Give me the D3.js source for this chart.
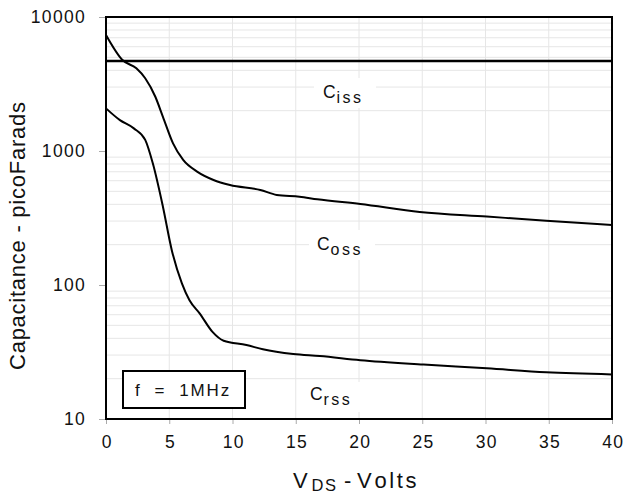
<!DOCTYPE html>
<html><head><meta charset="utf-8">
<script src="https://cdn.jsdelivr.net/npm/d3@7"></script>
<style>body{margin:0;background:#fff}svg{display:block}text{font-family:"Liberation Sans",Arial,sans-serif;fill:#111}</style>
</head><body><svg id="c" width="624" height="494"></svg>
<script>
const xTicks = [0,5,10,15,20,25,30,35,40];
const yTicks = [10,100,1000,10000];
const cissV = [0,40];
const cissC = [4700,4700];
const cossV = [0,1.3,2.4,3.1,3.9,4.5,5.3,6.1,7.2,8.5,9.8,12.2,13.5,15.3,16.7,20.1,24.8,30.1,34.8,40];
const cossC = [7350,4780,4140,3490,2540,1800,1140,857,702,608,557,512,470,456,436,402,351,324,302,280];
const crssV = [0,1.1,2.2,3.1,3.7,4.5,5.2,6.0,6.6,7.4,8.4,9.3,11.1,12.4,14.8,16.9,20.1,25.1,30.1,34.8,40];
const crssC = [2080,1700,1475,1210,809,384,182,103,77,61.5,44.9,38.4,35.7,33.1,30.5,29.5,27.5,25.5,23.9,22.3,21.5];

const svg = d3.select("#c");
const L=106,R=612,T=17,B=419;
const x = d3.scaleLinear().domain([0,40]).range([L,R]);
const y = d3.scaleLog().domain([10,10000]).range([B,T]);

// grid
const minor=[];
[10,100,1000].forEach(d=>{for(let k=2;k<=9;k++)minor.push(d*k);});
const g=svg.append("g");
g.selectAll("line.h").data(minor).join("line").attr("x1",L).attr("x2",R)
 .attr("y1",d=>y(d)).attr("y2",d=>y(d)).attr("stroke","#e6e6e6").attr("stroke-width",1);
g.selectAll("line.v").data(xTicks.slice(1,-1)).join("line").attr("y1",T).attr("y2",B)
 .attr("x1",d=>x(d)).attr("x2",d=>x(d)).attr("stroke","#e6e6e6").attr("stroke-width",1);

// label backgrounds
[[314,78,62,30],[309,230,66,30],[302,382,60,30]].forEach(r=>{
 svg.append("rect").attr("x",r[0]).attr("y",r[1]).attr("width",r[2]).attr("height",r[3]).attr("fill","#fff");
});

// axes
const xa = svg.append("g").attr("transform",`translate(0,${B})`)
 .call(d3.axisBottom(x).tickValues(xTicks).tickSize(5).tickPadding(12).tickFormat(d3.format("d")));
const ya = svg.append("g").attr("transform",`translate(${L},0)`)
 .call(d3.axisLeft(y).tickValues(yTicks).tickSize(7).tickPadding(13).tickFormat(d3.format("d")));
[xa,ya].forEach(a=>{a.select(".domain").remove();a.selectAll("line").attr("stroke","#aaa");
 a.selectAll("text").style("font-size","17.5px").style("letter-spacing","1.3px").attr("fill","#111");});
xa.selectAll("text").attr("dx","0.65px");

// curves
const line=d3.line().x(d=>x(d[0])).y(d=>y(d[1])).curve(d3.curveMonotoneX);
[[cissV,cissC,2.5],[cossV,cossC,2],[crssV,crssC,2]].forEach(([v,c,w])=>{
 svg.append("path").datum(v.map((d,i)=>[d,c[i]])).attr("d",line)
  .attr("fill","none").attr("stroke","#000").attr("stroke-width",w);
});

// frame
svg.append("rect").attr("x",L).attr("y",T).attr("width",R-L).attr("height",B-T)
 .attr("fill","none").attr("stroke","#000").attr("stroke-width",2);

// series labels
function lab(px,py,sub){
 svg.append("text").attr("x",px).attr("y",py).style("font-size","17.5px").text("C");
 svg.append("text").attr("x",px+13.5).attr("y",py+5).style("font-size","16px")
  .style("letter-spacing","2.5px").text(sub);
}
lab(323,97.5,"iss");
lab(317,250,"oss");
lab(310,400,"rss");

// f box
svg.append("rect").attr("x",123).attr("y",371).attr("width",122).attr("height",37)
 .attr("fill","#fff").attr("stroke","#000").attr("stroke-width",2);
svg.append("text").attr("x",135).attr("y",396).style("white-space","pre")
 .style("font-size","17px").style("letter-spacing","1.8px").text("f  =  1MHz");

// axis titles
const tt=(px,py,s,txt,w)=>{const t=svg.append("text").attr("x",px).attr("y",py).style("font-size",s+"px").text(txt);
 if(w)t.attr("textLength",w).attr("lengthAdjust","spacing");};
tt(293,488,22,"V");
tt(311.5,491,16.5,"D");
tt(325,491,16.5,"S");
tt(344,488,22,"-");
tt(357,488,22,"V");
tt(374.5,488,22,"olts",42);
svg.append("text").attr("transform","translate(25,236) rotate(-90)").attr("text-anchor","middle")
 .style("font-size","22px").attr("textLength",268).attr("lengthAdjust","spacing").text("Capacitance - picoFarads");
</script></body></html>
